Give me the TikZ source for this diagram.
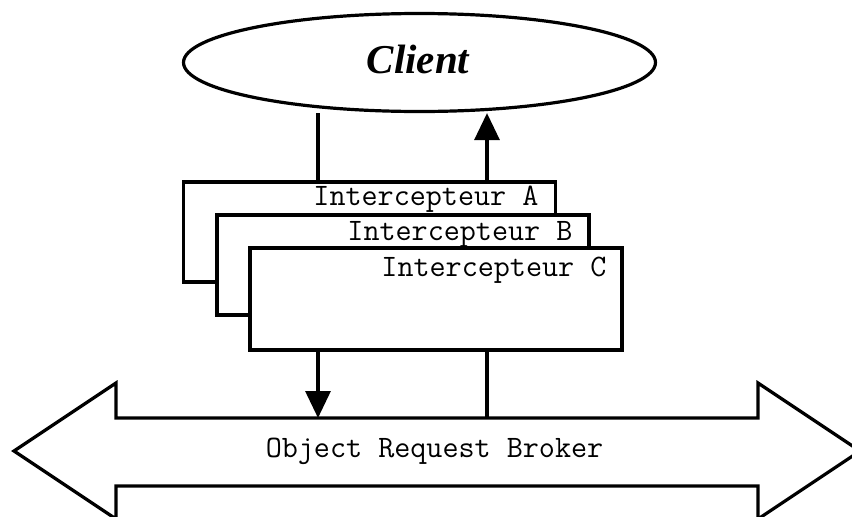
\documentclass[tikz,border=0pt]{standalone}
\usepackage{fontspec}
\setmainfont{Liberation Serif}
\usetikzlibrary{shapes.geometric,arrows.meta}
\begin{document}
\begin{tikzpicture}[x=1pt,y=-1pt,line width=3.2pt,
  box/.style={draw, fill=white, rectangle, minimum width=372pt, minimum height=100pt, inner sep=0pt},
  mono/.style={font=\ttfamily\fontsize{31.2}{34}\selectfont, inner sep=0pt},
  lbl/.style={mono, anchor=base east},
  arr/.style={-{Triangle[width=25pt,length=27pt]}}]
\useasboundingbox (0,0) rectangle (852,517);
\clip (0,0) rectangle (852,517);
% client
\node[ellipse, draw, minimum width=472pt, minimum height=98pt, inner sep=0pt] (client) at (419.5,62.5) {};
\node[font=\bfseries\itshape\fontsize{41}{44}\selectfont, inner sep=0pt, anchor=base] (clientlbl) at (418,73) {Client};
% interceptors
\node[box] (boxA) at (369.5,232) {};
\node[lbl] (tA) at (540,205) {Intercepteur A};
\node[box] (boxB) at (403,265) {};
\node[lbl] (tB) at (574,240.5) {Intercepteur B};
\node[box, minimum height=102pt] (boxC) at (436,299) {};
\node[lbl] (tC) at (608,276) {Intercepteur C};
% ORB
\draw[fill=white,line join=miter] (14,451) -- (116,383) -- (116,418) -- (758,418) -- (758,383) -- (860,451)
  -- (758,519) -- (758,486) -- (116,486) -- (116,519) -- cycle;
\node[mono, anchor=base] (orb) at (434.5,457) {Object Request Broker};
\coordinate (orbL) at (318,418);
\coordinate (orbR) at (487,418);
% connectors
\draw (boxA.north -| orbL) -- (client.south -| orbL);
\draw[arr] (boxA.north -| orbR) -- (client.south -| orbR);
\draw[arr] (boxC.south -| orbL) -- (orbL);
\draw (boxC.south -| orbR) -- (orbR);
\end{tikzpicture}
\end{document}
